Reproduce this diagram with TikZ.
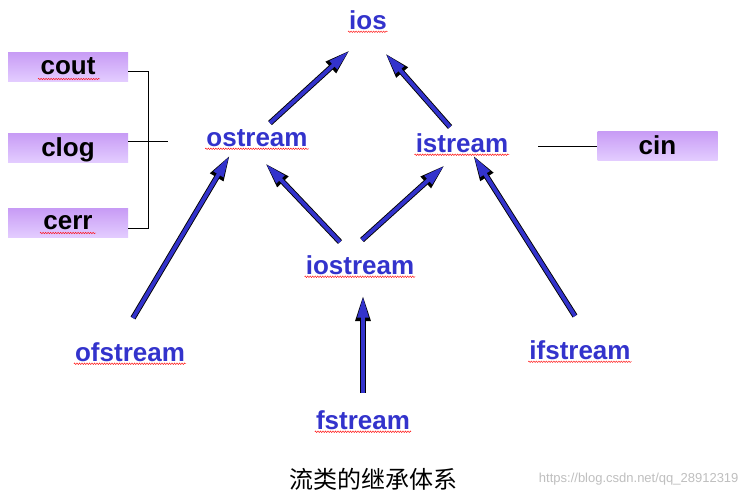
\documentclass[tikz,border=0pt]{standalone}
\usepackage{fontspec}
\setmainfont{Liberation Sans}
\newfontfamily\cjk{Noto Sans CJK SC}
\usetikzlibrary{arrows.meta,decorations.pathmorphing}
\definecolor{ablue}{HTML}{3333CC}
\definecolor{tblue}{HTML}{3333CC}
\definecolor{boxtop}{HTML}{C79BF5}
\definecolor{boxbot}{HTML}{E3CCFF}
\tikzset{
 cls/.style={font=\bfseries\fontsize{26}{28}\selectfont, text=tblue, inner sep=1pt},
 strm/.style={font=\bfseries\fontsize{26}{28}\selectfont, text=black, minimum width=120pt, minimum height=29pt, inner sep=0pt, top color=boxtop, bottom color=boxbot, draw=none, text depth=0pt},
 lnk/.style={black, line width=0.7pt},
 squig/.style={red, line width=0.4pt, decorate, decoration={zigzag, amplitude=0.8pt, segment length=2.5pt}},
 arrout/.style={black, line width=5.6pt, -{Triangle[width=14pt,length=26pt]}},
 arrin/.style={ablue, line width=3.8pt, shorten >=1.6pt, -{Triangle[width=10.5pt,length=21pt]}}
}
\newcommand\bigarrow[2]{\draw[arrout] (#1) -- (#2); \draw[arrin] (#1) -- (#2);}
\begin{document}
\begin{tikzpicture}[x=1pt,y=-1pt]
\useasboundingbox[fill=white] (0,0) rectangle (747,496);
\node[cls] (ios) at (368,20) {ios};
\node[cls] (ost) at (257,138) {ostream};
\node[cls] (ist) at (462,143) {istream};
\node[cls] (iost) at (360,265) {iostream};
\node[cls] (ofs) at (130,352) {ofstream};
\node[cls] (ifs) at (580,350) {ifstream};
\node[cls] (fs) at (363,420) {fstream};
\foreach \n in {ios,ost,ist,iost,ofs,ifs,fs}{
 \draw[squig] ([yshift=-1pt]\n.south west) -- ([yshift=-1pt]\n.south east);}
\node[strm] (cout) at (68,66.5) {cout};
\node[strm] (clog) at (68,147.5) {clog};
\node[strm] (cerr) at (68,222.5) {cerr};
\node[strm] (cin) at (657.5,145.5) {cin};
\draw[squig] (38,79) -- (100,79);
\draw[squig] (40,233) -- (96,233);
\coordinate (bt) at (148,71);
\coordinate (bm) at (148,141);
\coordinate (bb) at (148,228);
\coordinate (be) at (168,141);
\coordinate (ce) at (538,146);
\draw[lnk] (cout.east |- bt) -- (bt) -- (bb) -- (cerr.east |- bb);
\draw[lnk] (clog.east |- bm) -- (be);
\draw[lnk] (ce) -- (cin.west |- ce);
\coordinate (a1) at (270,123); \coordinate (b1) at (350,50);
\coordinate (a2) at (450,127); \coordinate (b2) at (385,53);
\coordinate (a3) at (133,318); \coordinate (b3) at (230,155);
\coordinate (a4) at (340,242); \coordinate (b4) at (265,163);
\coordinate (a5) at (362,240); \coordinate (b5) at (445,165);
\coordinate (a6) at (575,316); \coordinate (b6) at (473,155);
\coordinate (a7) at (363,393); \coordinate (b7) at (363,295);
\bigarrow{a1}{b1}\bigarrow{a2}{b2}\bigarrow{a3}{b3}\bigarrow{a4}{b4}
\bigarrow{a5}{b5}\bigarrow{a6}{b6}\bigarrow{a7}{b7}
\node[font=\cjk\fontsize{24}{26}\selectfont] (cap) at (373,479) {流类的继承体系};
\node[font=\fontsize{13}{14}\selectfont, text=black!25, anchor=east] (wm) at (742,479) {https://blog.csdn.net/qq\_28912319};
\end{tikzpicture}
\end{document}
